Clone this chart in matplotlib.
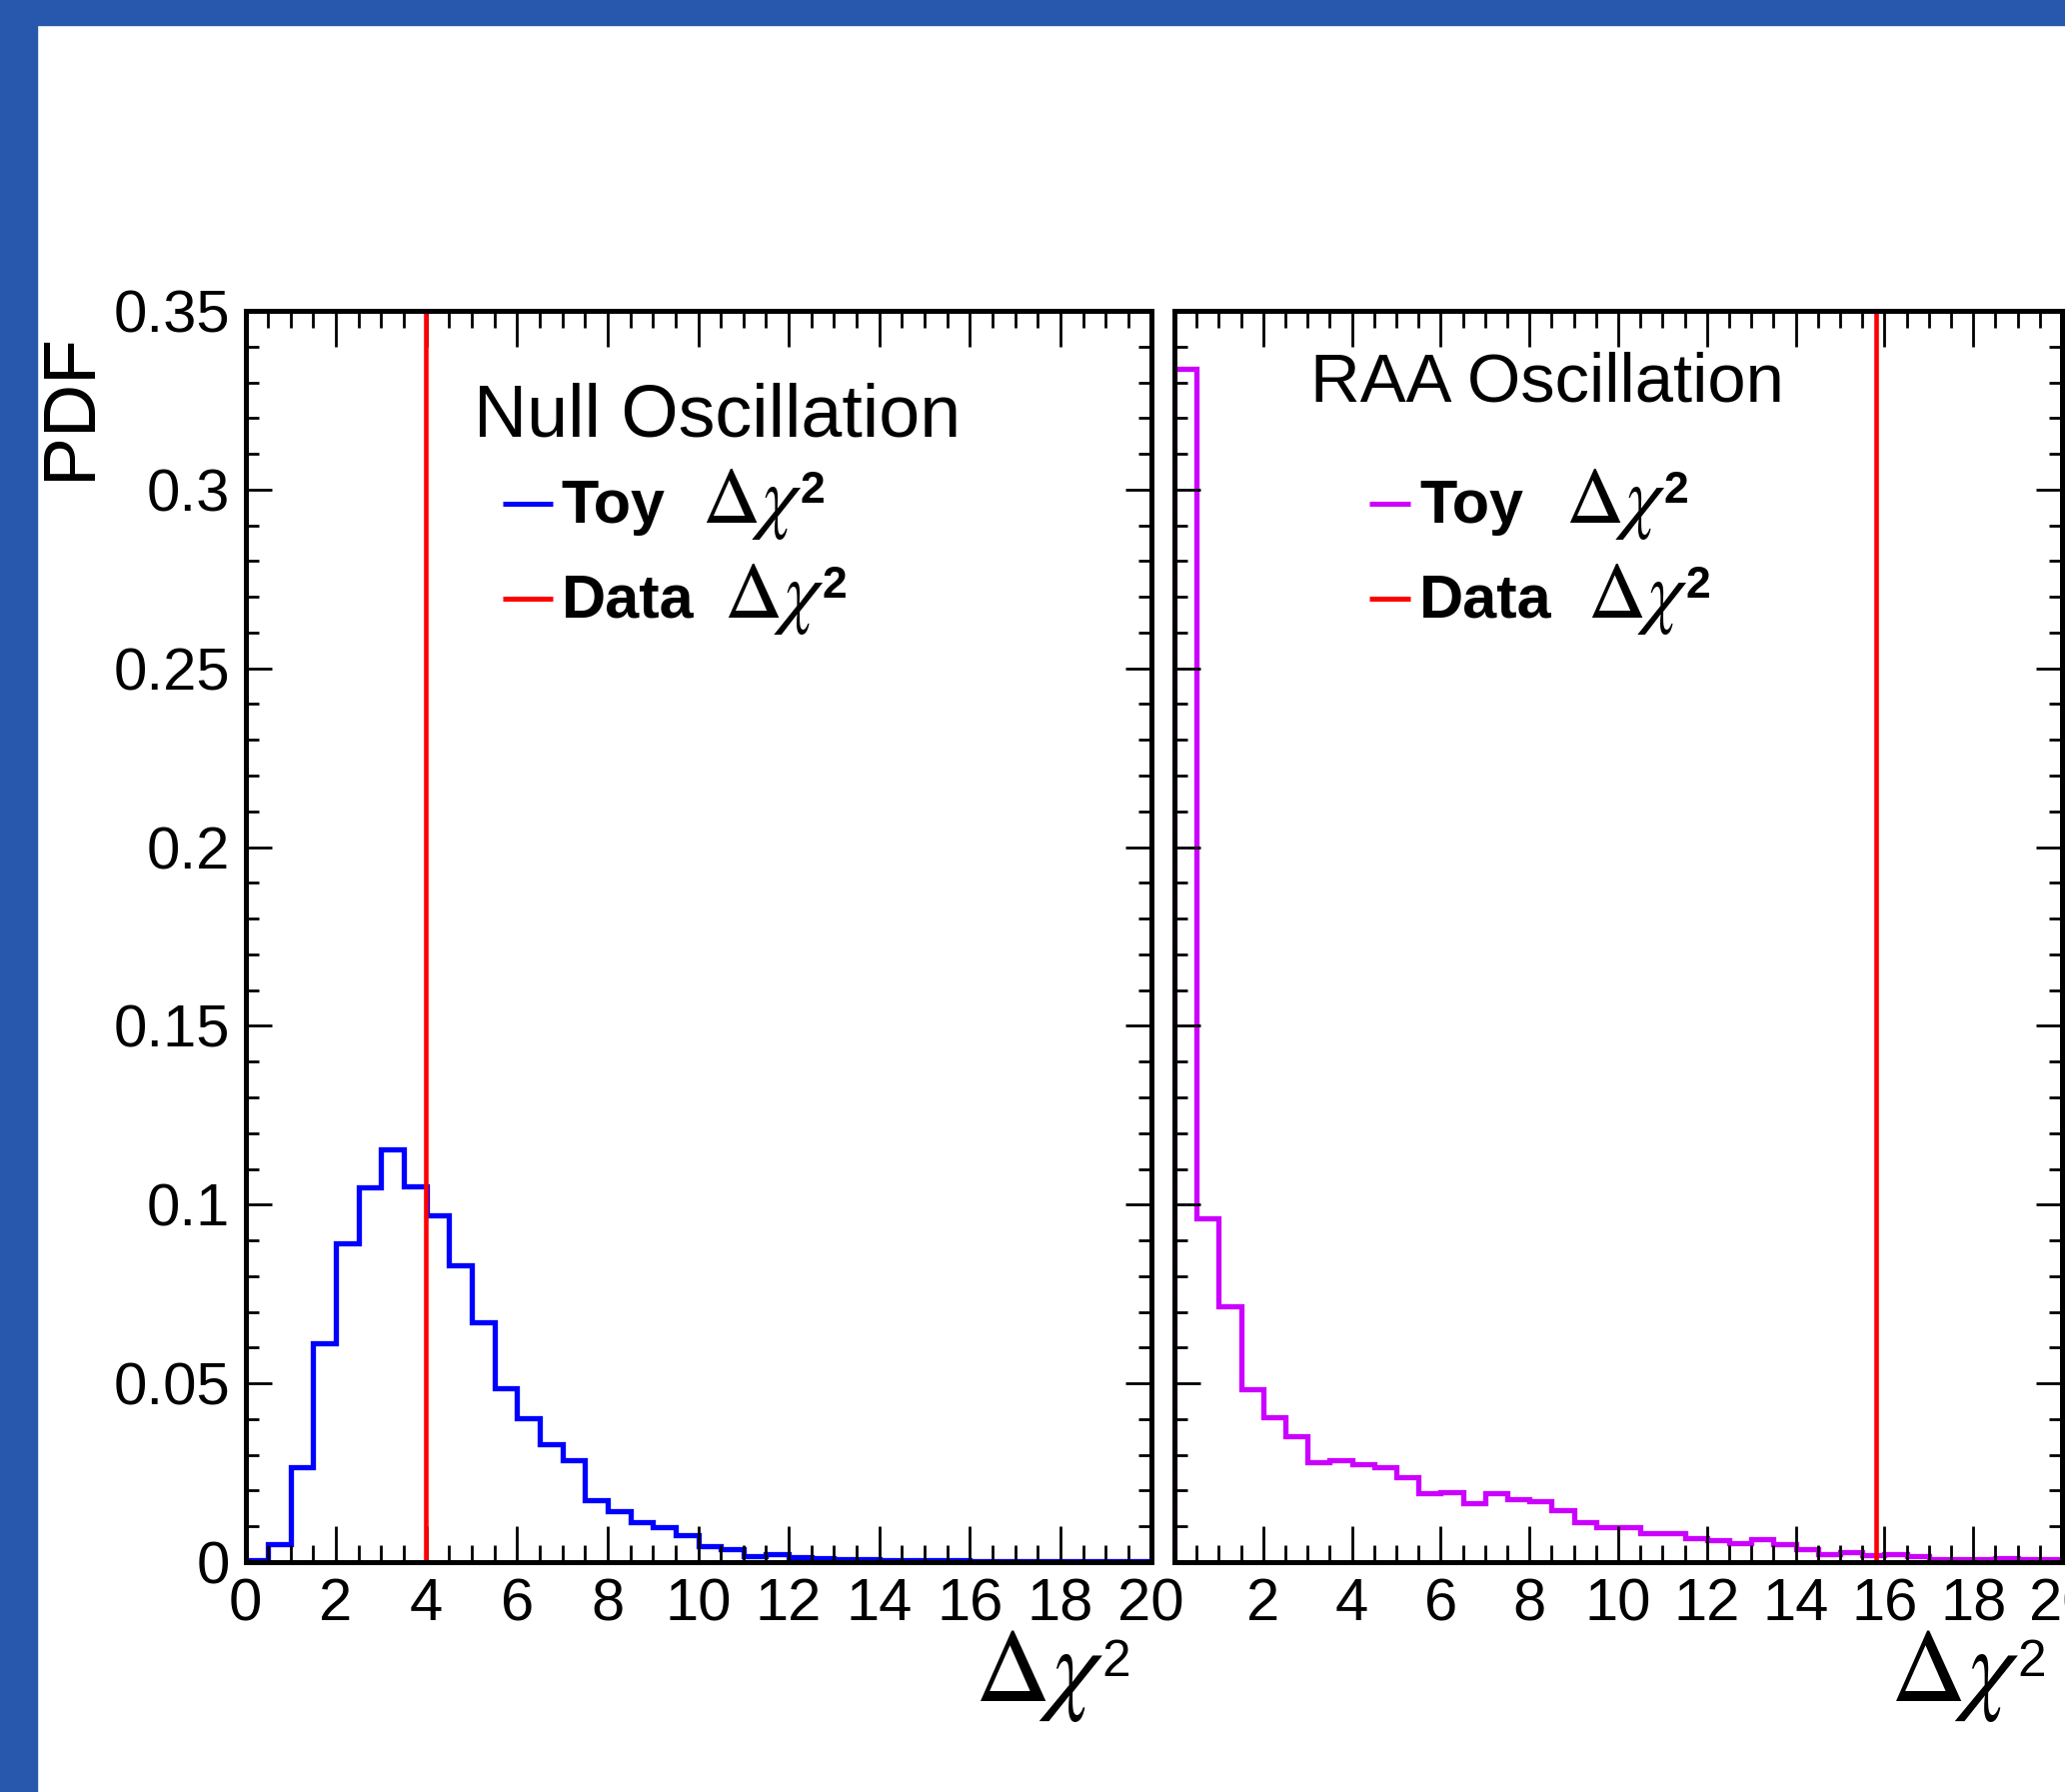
"""
plot.py
-------------
Toy vs data delta-chi2 distributions
(Null oscillation / RAA oscillation)
"""

import numpy as np
import matplotlib

matplotlib.use("Agg")

import matplotlib.pyplot as plt
from matplotlib.patches import Rectangle
from matplotlib.ticker import MultipleLocator, FuncFormatter

# ============================================================
# DATA
# ============================================================

BIN_LO = 0.0
BIN_HI = 20.0
N_BINS = 40

# toy delta-chi2 pdf, null oscillation hypothesis (bin width 0.5)
null_toy = [
    0.0005, 0.0050, 0.0265, 0.0613, 0.0892, 0.1047, 0.1155, 0.1050,
    0.0971, 0.0831, 0.0671, 0.0486, 0.0403, 0.0330, 0.0284, 0.0173,
    0.0143, 0.0112, 0.0098, 0.0075, 0.0045, 0.0037, 0.0018, 0.0022,
    0.0014, 0.0012, 0.0008, 0.0007, 0.0006, 0.0006, 0.0005, 0.0005,
    0.0004, 0.0004, 0.0004, 0.0003, 0.0003, 0.0003, 0.0003, 0.0002,
]

# toy delta-chi2 pdf, RAA oscillation hypothesis
raa_toy = [
    0.3337, 0.0961, 0.0716, 0.0484, 0.0405, 0.0351, 0.0280, 0.0284,
    0.0274, 0.0265, 0.0238, 0.0192, 0.0197, 0.0165, 0.0193, 0.0177,
    0.0170, 0.0145, 0.0112, 0.0097, 0.0097, 0.0080, 0.0082, 0.0067,
    0.0061, 0.0052, 0.0065, 0.0051, 0.0035, 0.0023, 0.0029, 0.0019,
    0.0021, 0.0017, 0.0008, 0.0007, 0.0007, 0.0011, 0.0008, 0.0007,
]

null_data = 3.98
raa_data = 15.8

panel_titles = ["Null Oscillation", "RAA Oscillation"]
toy_colors = ["#0000FF", "#CC00FF"]
DATA_COLOR = "#FF0000"

# ============================================================
# STYLE
# ============================================================

plt.rcParams["font.family"] = ["Liberation Sans", "DejaVu Sans"]
plt.rcParams["mathtext.fontset"] = "stix"

W, H = 2066, 1793
LW = 3.6

fig = plt.figure(figsize=(W / 100, H / 100), dpi=100)
fig.patch.set_facecolor("white")

# blue frame strips (left + top)
frame_color = "#2858AD"
fig.add_artist(Rectangle((0, 0), 37 / W, 1, transform=fig.transFigure,
                         color=frame_color, zorder=0))
fig.add_artist(Rectangle((0, 1 - 25 / H), 1, 25 / H, transform=fig.transFigure,
                         color=frame_color, zorder=0))

ax_bottom = 1 - 1563 / H
ax_height = 1252 / H

ax_l = fig.add_axes([245.5 / W, ax_bottom, 906 / W, ax_height])
ax_r = fig.add_axes([1175 / W, ax_bottom, 888 / W, ax_height])

edges = np.linspace(BIN_LO, BIN_HI, N_BINS + 1)


def y_fmt(v, _pos):
    return "%g" % round(v, 4)


def style_axes(ax, show_ylabels, hide_zero_x):

    ax.set_xlim(BIN_LO, BIN_HI)
    ax.set_ylim(0, 0.35)

    ax.xaxis.set_major_locator(MultipleLocator(2))
    ax.xaxis.set_minor_locator(MultipleLocator(0.5))
    ax.yaxis.set_major_locator(MultipleLocator(0.05))
    ax.yaxis.set_minor_locator(MultipleLocator(0.01))

    ax.yaxis.set_major_formatter(FuncFormatter(y_fmt))

    if hide_zero_x:
        ax.xaxis.set_major_formatter(
            FuncFormatter(lambda v, p: "" if abs(v) < 1e-9 else "%g" % v)
        )
    else:
        ax.xaxis.set_major_formatter(FuncFormatter(lambda v, p: "%g" % v))

    ax.tick_params(which="both", direction="in", top=True, right=True,
                   width=2, colors="black")
    ax.tick_params(axis="x", which="major", length=26, labelsize=43, pad=11)
    ax.tick_params(axis="x", which="minor", length=12)
    ax.tick_params(axis="y", which="major", length=19, labelsize=43, pad=11)
    ax.tick_params(axis="y", which="minor", length=9.5)

    if not show_ylabels:
        ax.tick_params(axis="y", labelleft=False)

    for sp in ax.spines.values():
        sp.set_linewidth(LW)


# ------------------------------------------------------------
# delta-chi2 symbol: serif greek (stix) + sans superscript
# ------------------------------------------------------------

def dchi2(ax, x, y, size, sup_size, sup_weight, sup_rise, gap=-2):

    t = ax.text(x, y, r"$\Delta\chi$", transform=ax.transAxes,
                fontsize=size, ha="left", va="baseline")

    ax.annotate("2", xy=(1.0, y), xycoords=(t, ax.transAxes),
                xytext=(gap, sup_rise), textcoords="offset pixels",
                fontsize=sup_size, fontweight=sup_weight,
                ha="left", va="baseline")


# ============================================================
# LEFT PANEL - NULL
# ============================================================

ax_l.stairs(null_toy, edges, color=toy_colors[0], linewidth=3.8)
ax_l.axvline(null_data, color=DATA_COLOR, linewidth=3.3)
style_axes(ax_l, True, False)

# ============================================================
# RIGHT PANEL - RAA
# ============================================================

ax_r.stairs(raa_toy, edges, color=toy_colors[1], linewidth=3.8)
ax_r.axvline(raa_data, color=DATA_COLOR, linewidth=3.3)
style_axes(ax_r, False, True)

# ============================================================
# TEXT / LEGENDS
# ============================================================

# (title x, title baseline, key x0, key x1, text x, delta x toy, delta x data)
layout = [
    (0.252, 0.900, 0.284, 0.339, 0.349, 0.504, 0.528),
    (0.153, 0.9276, 0.2196, 0.266, 0.276, 0.4406, 0.465),
]
title_sizes = [53, 49.5]

for ax, title, col, lay, tsize in zip(
    (ax_l, ax_r), panel_titles, toy_colors, layout, title_sizes
):

    tx, ty, k0, k1, xt, dx_toy, dx_data = lay

    ax.text(tx, ty, title, transform=ax.transAxes, fontsize=tsize,
            ha="left", va="baseline")

    rows = [("Toy", col, 0.8458, 0.8307, dx_toy),
            ("Data", DATA_COLOR, 0.770, 0.7548, dx_data)]

    for label, c, yk, yb, dx in rows:

        ax.plot([k0, k1], [yk, yk], transform=ax.transAxes, color=c,
                linewidth=LW, clip_on=False, solid_capstyle="butt")

        ax.text(xt, yb, label, transform=ax.transAxes, fontsize=44,
                fontweight="bold", ha="left", va="baseline")

        dchi2(ax, dx, yb, 58, 32, "bold", 20)

# x axis titles
dchi2(ax_l, 0.8056, -0.111, 75, 37, "normal", 25)
dchi2(ax_r, 0.8067, -0.111, 75, 37, "normal", 25)

# y axis title
fig.text(70 / W, 1 - 333 / H, "PDF", rotation=90, fontsize=53,
         ha="center", va="top")

fig.savefig("out.png", dpi=100)
